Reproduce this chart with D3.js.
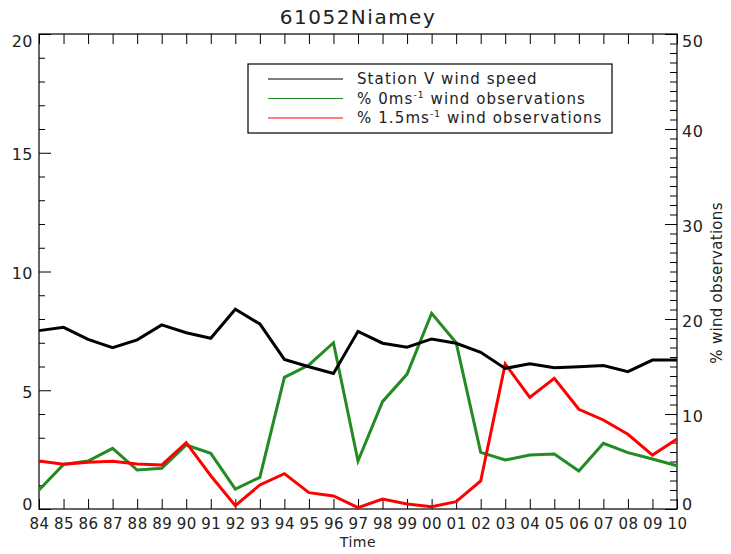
<!DOCTYPE html>
<html>
<head>
<meta charset="utf-8">
<script src="https://cdn.jsdelivr.net/npm/d3@7"></script>
<style>
  body { margin: 0; background: #fff; }
  svg { display: block; }
  text { font-family: "DejaVu Sans", sans-serif; fill: #222; }
</style>
</head>
<body>
<script>
// ---- data ----
const years = ["84","85","86","87","88","89","90","91","92","93","94","95","96","97","98","99","00","01","02","03","04","05","06","07","08","09","10"];
const windSpeed = [7.51,7.65,7.14,6.79,7.12,7.75,7.42,7.19,8.41,7.79,6.30,5.99,5.71,7.48,6.98,6.81,7.16,6.98,6.60,5.92,6.11,5.95,5.99,6.04,5.78,6.27,6.27];
const pctZero = [2.0,4.7,5.05,6.39,4.1,4.28,6.74,5.86,2.1,3.33,13.86,15.16,17.5,5.05,11.3,14.2,20.6,17.5,5.96,5.16,5.68,5.79,4.0,6.91,5.93,5.26,4.56];
const pct15 = [5.05,4.7,4.91,5.02,4.74,4.63,6.98,3.5,0.35,2.53,3.72,1.72,1.37,0.14,1.05,0.53,0.25,0.77,2.95,15.26,11.75,13.75,10.5,9.37,7.86,5.68,7.37];
const leftTicks = [0,5,10,15,20];
const rightTicks = [0,10,20,30,40,50];
const title = "61052Niamey";
const xTitle = "Time";
const rightTitle = "% wind observations";

const W = 731, H = 554;
const m = {left: 39, right: 677, top: 34, bottom: 509};

const svg = d3.select("body").append("svg").attr("width", W).attr("height", H);

const x = d3.scalePoint().domain(years).range([m.left, m.right]);
const yL = d3.scaleLinear().domain([0, 20]).range([m.bottom, m.top]);
const yR = d3.scaleLinear().domain([0, 50]).range([m.bottom, m.top]);

function clean(g) { g.select(".domain").remove(); g.selectAll("line").attr("stroke", "#000"); }
function font(g, size) {
  g.selectAll("text").attr("font-size", size).attr("fill", "#222")
   .style("font-family", "DejaVu Sans").style("letter-spacing", "0.5px");
}

// bottom axis with labels
svg.append("g").attr("transform", `translate(0,${m.bottom})`)
  .call(d3.axisBottom(x).tickSize(-10).tickPadding(9))
  .call(clean)
  .call(g => font(g, 15));
// top axis ticks
svg.append("g").attr("transform", `translate(0,${m.top})`)
  .call(d3.axisTop(x).tickSize(-10).tickFormat(""))
  .call(clean);

// left axis
svg.append("g").attr("transform", `translate(${m.left},0)`)
  .call(d3.axisLeft(yL).tickValues(d3.range(0, 21, 1).filter(d => d % 5)).tickSize(-6).tickFormat(""))
  .call(clean);
svg.append("g").attr("transform", `translate(${m.left},0)`)
  .call(d3.axisLeft(yL).tickValues(leftTicks).tickSize(-12).tickPadding(6).tickFormat(d3.format("d")))
  .call(clean)
  .call(g => font(g, 16))
  .call(g => g.selectAll("text").attr("dy", d => d === 0 ? "-0.0em" : d === 20 ? "0.75em" : "0.45em"));

// right axis
svg.append("g").attr("transform", `translate(${m.right},0)`)
  .call(d3.axisRight(yR).tickValues(d3.range(0, 51, 1).filter(d => d % 10)).tickSize(-7).tickFormat(""))
  .call(clean);
svg.append("g").attr("transform", `translate(${m.right},0)`)
  .call(d3.axisRight(yR).tickValues(rightTicks).tickSize(-12).tickPadding(5).tickFormat(d3.format("d")))
  .call(clean)
  .call(g => font(g, 16))
  .call(g => g.selectAll("text").attr("dy", d => d === 0 ? "-0.0em" : d === 50 ? "0.75em" : "0.45em"));

// frame
svg.append("rect").attr("x", m.left).attr("y", m.top)
  .attr("width", m.right - m.left).attr("height", m.bottom - m.top)
  .attr("fill", "none").attr("stroke", "#000").attr("stroke-width", 1.2);

// lines
const lineL = d3.line().x((d, i) => x(years[i])).y(d => yL(d));
const lineR = d3.line().x((d, i) => x(years[i])).y(d => yR(d));
svg.append("path").datum(pctZero).attr("d", lineR).attr("fill", "none").attr("stroke", "#228B22").attr("stroke-width", 3);
svg.append("path").datum(pct15).attr("d", lineR).attr("fill", "none").attr("stroke", "#ff0000").attr("stroke-width", 3);
svg.append("path").datum(windSpeed).attr("d", lineL).attr("fill", "none").attr("stroke", "#000").attr("stroke-width", 3);

// titles
svg.append("text").attr("x", (m.left + m.right) / 2).attr("y", 24).attr("text-anchor", "middle")
  .attr("font-size", 20).style("letter-spacing", "1.5px").text(title);
svg.append("text").attr("x", (m.left + m.right) / 2).attr("y", 547).attr("text-anchor", "middle")
  .attr("font-size", 14).style("letter-spacing", "0.5px").text(xTitle);
svg.append("text").attr("transform", `translate(722,283) rotate(-90)`).attr("text-anchor", "middle")
  .attr("font-size", 15).style("letter-spacing", "0.3px").text(rightTitle);

// legend
const lg = svg.append("g");
lg.append("rect").attr("x", 248).attr("y", 64).attr("width", 364).attr("height", 69)
  .attr("fill", "#fff").attr("stroke", "#000").attr("stroke-width", 1.2);
const legendItems = [
  {color: "#000", parts: [["Station V wind speed", false]]},
  {color: "#228B22", parts: [["% 0ms", false], ["-1", true], [" wind observations", false]]},
  {color: "#ff0000", parts: [["% 1.5ms", false], ["-1", true], [" wind observations", false]]}
];
legendItems.forEach((it, i) => {
  const yy = 79 + i * 19.5;
  lg.append("line").attr("x1", 268).attr("x2", 343).attr("y1", yy).attr("y2", yy)
    .attr("stroke", it.color).attr("stroke-width", 1.2);
  const t = lg.append("text").attr("x", 357).attr("y", yy + 5).attr("font-size", 15)
    .style("letter-spacing", "1.1px");
  it.parts.forEach(([s, sup]) => {
    if (sup) {
      t.append("tspan").attr("font-size", 9).attr("dy", -6).text(s);
    } else {
      const ts = t.append("tspan").text(s);
      if (t.selectAll("tspan").size() > 1) ts.attr("dy", 6);
    }
  });
});
</script>
</body>
</html>
